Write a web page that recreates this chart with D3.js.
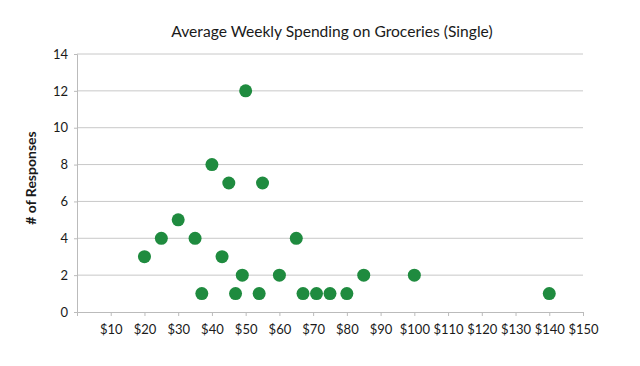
<!DOCTYPE html>
<html>
<head>
<meta charset="utf-8">
<script src="https://cdn.jsdelivr.net/npm/d3@7"></script>
<style>
  body { margin: 0; background: #fff; }
  text { font-family: Lato, "Open Sans", sans-serif; fill: #1a1a1a; }
</style>
</head>
<body>
<script>
// spending ($) and number of responses
var spending  = [20, 25, 30, 35, 37, 40, 43, 45, 47, 49, 50, 54, 55, 60, 65, 67, 71, 75, 80, 85, 100, 140];
var responses = [3, 4, 5, 4, 1, 8, 3, 7, 1, 2, 12, 1, 7, 2, 4, 1, 1, 1, 1, 2, 2, 1];
var xTicks = [10, 20, 30, 40, 50, 60, 70, 80, 90, 100, 110, 120, 130, 140, 150];
var yTicks = [0, 2, 4, 6, 8, 10, 12, 14];

var width = 640, height = 366;
var margin = {top: 54, right: 57, bottom: 54, left: 77};
var w = width - margin.left - margin.right,
    h = height - margin.top - margin.bottom;

var svg = d3.select("body").append("svg")
    .attr("width", width)
    .attr("height", height);

var g = svg.append("g")
    .attr("transform", "translate(" + margin.left + "," + margin.top + ")");

var x = d3.scaleLinear().domain([0, 150]).range([0, w]);
var y = d3.scaleLinear().domain([0, 14]).range([h, 0]);

// gridlines
g.selectAll(".grid")
    .data(yTicks.filter(function(d) { return d > 0; }))
    .enter().append("line")
    .attr("x1", 0).attr("x2", w)
    .attr("y1", function(d) { return y(d); })
    .attr("y2", function(d) { return y(d); })
    .attr("stroke", "#c8c8c8").attr("stroke-width", 1);

// y axis
var yAxis = g.append("g")
    .call(d3.axisLeft(y).tickValues(yTicks).tickSize(3).tickPadding(6));
yAxis.select(".domain").attr("stroke", "#bbb");
yAxis.selectAll(".tick line").attr("stroke", "#bbb");
yAxis.selectAll("text").style("font-size", "13px").attr("fill", "#1a1a1a");

// x axis
var xAxis = g.append("g")
    .attr("transform", "translate(0," + h + ")")
    .call(d3.axisBottom(x).tickValues(xTicks).tickSize(4).tickPadding(9)
        .tickFormat(function(d) { return "$" + d; }));
xAxis.select(".domain").attr("stroke", "#bbb");
xAxis.selectAll(".tick line").attr("stroke", "#bbb");
xAxis.selectAll("text").style("font-size", "13px").attr("fill", "#1a1a1a");

// points
g.selectAll(".dot")
    .data(spending)
    .enter().append("circle")
    .attr("cx", function(d) { return x(d); })
    .attr("cy", function(d, i) { return y(responses[i]); })
    .attr("r", 6.5)
    .attr("fill", "#1f8b3f");

// title
svg.append("text")
    .attr("x", 332).attr("y", 37)
    .attr("text-anchor", "middle")
    .style("font-size", "15.6px")
    .text("Average Weekly Spending on Groceries (Single)");

// y label
svg.append("text")
    .attr("transform", "translate(36,178) rotate(-90)")
    .attr("text-anchor", "middle")
    .style("font-size", "14px")
    .style("font-weight", "bold")
    .text("# of Responses");
</script>
</body>
</html>
